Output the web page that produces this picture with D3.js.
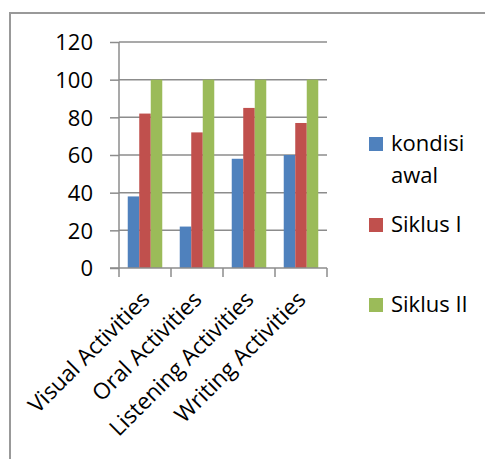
<!DOCTYPE html>
<html>
<head>
    <meta charset="utf-8">
    <title>Activities chart</title>
    <script src="https://d3js.org/d3.v7.min.js"></script>
    <style>
        body { margin: 0; background: #fff; }
        text { font-family: "Open Sans", "Noto Sans", sans-serif; fill: #000; }
    </style>
</head>
<body>
    <div id="chart"></div>
    <script>
        // data
        var categories = ["Visual Activities", "Oral Activities", "Listening Activities", "Writing Activities"];
        var seriesNames = ["kondisi awal", "Siklus I", "Siklus II"];
        var kondisiAwal = [38, 22, 58, 60];
        var siklus1 = [82, 72, 85, 77];
        var siklus2 = [100, 100, 100, 100];
        var yTicks = [0, 20, 40, 60, 80, 100, 120];
        var colors = ["#4F81BD", "#C0504D", "#9BBB59"];

        var width = 485, height = 459;
        var svg = d3.select("#chart").append("svg")
            .attr("width", width).attr("height", height);

        // outer frame (cut off at right and bottom)
        svg.append("path")
            .attr("d", "M10,459 V13 H485")
            .attr("fill", "none")
            .attr("stroke", "#999")
            .attr("stroke-width", 2);

        var plotLeft = 119, plotRight = 327, plotTop = 42, plotBottom = 268;

        var x = d3.scaleBand().domain(categories).range([plotLeft, plotRight]).paddingInner(0).paddingOuter(0);
        var xInner = d3.scaleBand().domain(seriesNames).range([0, x.bandwidth()]).paddingOuter(0.76);
        var y = d3.scaleLinear().domain([0, 120]).range([plotBottom, plotTop]);

        // gridlines
        svg.append("g").selectAll("line").data(yTicks.filter(d => d > 0)).join("line")
            .attr("x1", plotLeft).attr("x2", plotRight)
            .attr("y1", d => y(d)).attr("y2", d => y(d))
            .attr("stroke", "#8c8c8c").attr("stroke-width", 1.5);

        var table = categories.map((c, i) => ({ cat: c, vals: [kondisiAwal[i], siklus1[i], siklus2[i]] }));

        svg.append("g").selectAll("g").data(table).join("g")
            .attr("transform", d => "translate(" + x(d.cat) + ",0)")
            .selectAll("rect").data(d => d.vals.map((v, j) => ({ name: seriesNames[j], v: v, j: j }))).join("rect")
            .attr("x", d => xInner(d.name))
            .attr("width", xInner.bandwidth())
            .attr("y", d => y(d.v))
            .attr("height", d => y(0) - y(d.v))
            .attr("fill", d => colors[d.j]);

        // y axis
        var yAxis = d3.axisLeft(y).tickValues(yTicks).tickSize(9).tickPadding(14);
        var gy = svg.append("g").attr("transform", "translate(" + plotLeft + ",0)").call(yAxis);
        gy.selectAll("line, path").attr("stroke", "#8c8c8c").attr("stroke-width", 1.5);
        gy.select(".domain").attr("d", "M0," + plotTop + "V" + plotBottom);
        gy.selectAll("text").style("font-size", "22px").style("font-family", "'Open Sans', sans-serif")
            .attr("fill", "#000").attr("dy", "0.36em").attr("x", -26);

        // x axis baseline + ticks at category boundaries
        var gx = svg.append("g");
        gx.append("line").attr("x1", plotLeft - 9).attr("x2", plotRight).attr("y1", plotBottom).attr("y2", plotBottom)
            .attr("stroke", "#8c8c8c").attr("stroke-width", 1.5);
        var bounds = categories.map(c => x(c)).concat([plotRight]);
        gx.selectAll("line.tk").data(bounds).join("line").attr("class", "tk")
            .attr("x1", d => d).attr("x2", d => d).attr("y1", plotBottom).attr("y2", plotBottom + 9)
            .attr("stroke", "#8c8c8c").attr("stroke-width", 1.5);
        gx.selectAll("text").data(categories).join("text")
            .attr("transform", d => "translate(" + (x(d) + x.bandwidth() / 2 + 6) + "," + (plotBottom + 33) + ") rotate(-45)")
            .attr("text-anchor", "end")
            .style("font-size", "22.5px")
            .text(d => d);

        // legend
        var legendRows = [
            { lines: ["kondisi", "awal"], y: 151 },
            { lines: ["Siklus I"], y: 232 },
            { lines: ["Siklus II"], y: 312 }
        ];
        var lg = svg.append("g").selectAll("g").data(legendRows).join("g");
        lg.append("rect").attr("x", 369).attr("y", d => d.y - 14).attr("width", 14).attr("height", 14)
            .attr("fill", (d, i) => colors[i]);
        lg.append("text").attr("x", 391).attr("y", d => d.y)
            .style("font-size", "22px")
            .selectAll("tspan").data(d => d.lines).join("tspan")
            .attr("x", 391).attr("dy", (d, i) => i === 0 ? 0 : 32)
            .text(d => d);
    </script>
</body>
</html>
